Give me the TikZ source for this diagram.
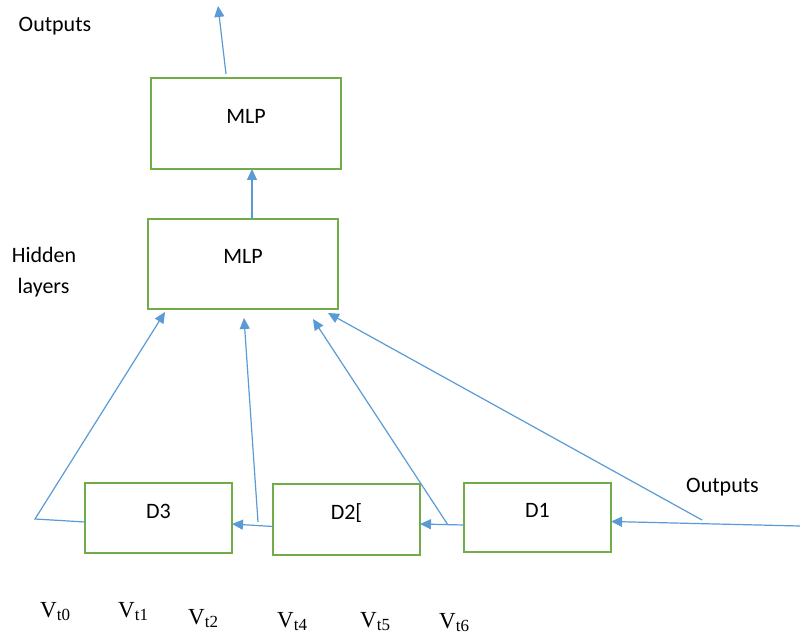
\documentclass[tikz,border=0pt]{standalone}
\usepackage{fontspec}
\setmainfont{Carlito}
\newfontfamily\serifface{Liberation Serif}
\usetikzlibrary{arrows.meta,calc}
\definecolor{linkblue}{HTML}{5B9BD5}
\definecolor{boxgreen}{HTML}{70AD47}
% state label V with a time-step subscript
\newcommand{\vstate}[1]{{\serifface\fontsize{23}{23}\selectfont V\raisebox{-3.7pt}{\fontsize{17}{17}\selectfont #1}}}
\begin{document}
\begin{tikzpicture}[x=1pt,y=-1pt,
  block/.style={draw=boxgreen, line width=2.3pt, inner sep=0pt, outer sep=0pt,
    font=\fontsize{22}{22}\selectfont, text height=8pt, text depth=8pt},
  link/.style={draw=linkblue, line width=1.2pt},
  arrowlink/.style={link, -{Triangle[length=11pt,width=10pt]}},
  caption/.style={font=\fontsize{22}{22}\selectfont, inner sep=0pt, anchor=base},
  state/.style={inner sep=0pt, anchor=base west}]

  % canvas
  \path[fill=white] (0,0) rectangle (800,636);
  \useasboundingbox (0,0) rectangle (800,636);

  % network blocks
  \node[block, minimum width=190pt, minimum height=91pt] (mlptop) at (246,123.5) {MLP};
  \node[block, minimum width=190pt, minimum height=90pt] (mlpbot) at (243,264) {MLP};
  \node[block, minimum width=147pt, minimum height=70pt] (d3) at (158.5,518) {D3};
  \node[block, minimum width=147pt, minimum height=71pt] (d2) at (346.5,519.5) {D2[};
  \node[block, minimum width=147pt, minimum height=69pt] (d1) at (537.5,517.5) {D1};

  % free ends and branch points
  \coordinate (outstart) at (226,74);
  \coordinate (outtip) at (218,6);
  \coordinate (src) at (800,526);
  \coordinate (k3) at (35,519);
  \coordinate (b2) at (258,522);
  \coordinate (b1) at (448,525);
  \coordinate (b0) at (702,520);

  % output of the upper MLP
  \draw[arrowlink] (outstart) -- (outtip);
  % lower MLP feeds upper MLP
  \draw[arrowlink] ($(mlpbot.north)+(9,0)$) -- ($(mlptop.south)+(6,0)$);

  % chain of D blocks
  \draw[arrowlink] (src) -- ($(d1.east)+(0,4)$);
  \draw[arrowlink] ($(d1.west)+(0,7.5)$) -- ($(d2.east)+(0,4.5)$);
  \draw[arrowlink] ($(d2.west)+(0,7)$) -- ($(d3.east)+(0,6)$);

  % taps into the hidden-layer MLP
  \draw[arrowlink] ($(d3.west)+(0,4)$) -- (k3) -- ($(mlpbot.south west)+(17,3)$);
  \draw[arrowlink] (b2) -- ($(mlpbot.south)+(1,9)$);
  \draw[arrowlink] (b1) -- ($(mlpbot.south)+(70,10)$);
  \draw[arrowlink] (b0) -- ($(mlpbot.south east)+(-10,4)$);

  % captions
  \node[caption] (outtop) at (55,32) {Outputs};
  \node[caption] (outright) at (722.5,492) {Outputs};
  \node[caption] (hidden) at (44,263) {Hidden};
  \node[caption] (layers) at (43.5,293) {layers};

  % time-step states
  \node[state] (vt0) at (40,617) {\vstate{t0}};
  \node[state] (vt1) at (118,617) {\vstate{t1}};
  \node[state] (vt2) at (188,624) {\vstate{t2}};
  \node[state] (vt4) at (277,627) {\vstate{t4}};
  \node[state] (vt5) at (360,627) {\vstate{t5}};
  \node[state] (vt6) at (439,628) {\vstate{t6}};
\end{tikzpicture}
\end{document}
